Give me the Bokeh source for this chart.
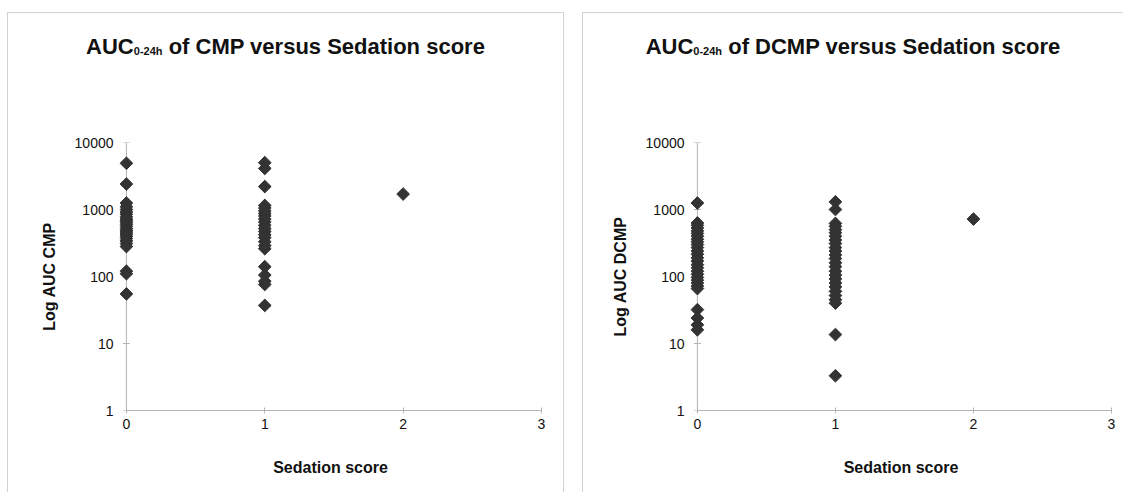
from bokeh.plotting import figure
from bokeh.layouts import row, column
from bokeh.models import FixedTicker, Range1d, ColumnDataSource, Div, Span
from bokeh.embed import file_html
from bokeh.resources import INLINE
import numpy as np

# ---- data ----
cmp_score0 = [4900, 2400, 1250, 1100, 1000, 920, 850, 780, 720, 680, 640, 600, 560,
              520, 490, 460, 430, 400, 370, 340, 310, 280, 120, 110, 55]
cmp_score1 = [5000, 4100, 2200, 1150, 1050, 950, 870, 800, 720, 650, 580, 520, 470,
              420, 380, 330, 290, 260, 140, 105, 85, 76, 37]
cmp_score2 = [1700]

dcmp_score0 = [1250, 630, 580, 530, 480, 440, 400, 360, 330, 300, 270, 240, 215, 190,
               170, 150, 135, 120, 108, 97, 88, 80, 72, 66, 32, 24, 19, 16]
dcmp_score1 = [1300, 1000, 620, 560, 500, 450, 400, 350, 310, 270, 240, 210, 185, 160,
               140, 120, 105, 92, 80, 70, 60, 52, 45, 40, 13.6, 3.3]
dcmp_score2 = [720]

x_ticks = [0, 1, 2, 3]
y_ticks = [1, 10, 100, 1000, 10000]
y_tick_labels = ["1", "10", "100", "1000", "10000"]

titles = [("AUC", "0-24h", " of CMP versus Sedation score"),
          ("AUC", "0-24h", " of DCMP versus Sedation score")]
y_labels = ["Log AUC CMP", "Log AUC DCMP"]
x_label = "Sedation score"

FONT = "Liberation Sans"
MARK = "#333333"
AXIS = "#b4b4b4"
TXT = "#111111"
TITLE_H = 60
X_PAD = 0.05  # room so that markers at score 0 are not clipped by the frame


def make_panel(s0, s1, s2, title, ylab, width, bl, br):
    xs = [0] * len(s0) + [1] * len(s1) + [2] * len(s2)
    ys = list(s0) + list(s1) + list(s2)
    src = ColumnDataSource(dict(x=xs, y=ys))
    p = figure(width=width, height=479 - TITLE_H, x_range=Range1d(-X_PAD, 3),
               y_range=Range1d(1, 10000), y_axis_type="log", output_backend="svg",
               toolbar_location=None, min_border_left=bl, min_border_right=br,
               min_border_top=142 - 13 - TITLE_H, min_border_bottom=82)
    p.grid.visible = False
    p.outline_line_color = None

    # y-axis line drawn at score 0 (the axis itself sits just left of it)
    p.add_layout(Span(location=0, dimension="height", line_color=AXIS, line_width=1,
                      level="underlay"))
    p.scatter(x=[0] * len(y_ticks), y=y_ticks, marker="dash", size=7,
              line_color=AXIS, line_width=1)

    p.scatter("x", "y", source=src, marker="square", angle=np.pi / 4, size=9,
              fill_color=MARK, line_color=MARK)

    for ax in (p.xaxis[0], p.yaxis[0]):
        ax.axis_line_color = AXIS
        ax.major_tick_line_color = AXIS
        ax.minor_tick_line_color = None
        ax.major_tick_in = 3
        ax.major_tick_out = 3
        ax.major_label_text_font = FONT
        ax.major_label_text_font_size = "14px"
        ax.major_label_text_color = TXT
        ax.axis_label_text_font = FONT
        ax.axis_label_text_font_style = "bold"
        ax.axis_label_text_font_size = "16px"
        ax.axis_label_text_color = TXT

    p.xaxis.ticker = FixedTicker(ticks=x_ticks)
    p.xaxis.bounds = (0, 3)
    p.xaxis.major_label_standoff = 5
    p.xaxis.axis_label = x_label
    p.xaxis.axis_label_standoff = 27

    p.yaxis.ticker = FixedTicker(ticks=y_ticks)
    p.yaxis.axis_line_color = None
    p.yaxis.major_tick_line_color = None
    p.yaxis.major_tick_in = 0
    p.yaxis.major_tick_out = 0
    p.yaxis.major_label_overrides = {t: l for t, l in zip(y_ticks, y_tick_labels)}
    p.yaxis.major_label_standoff = 6
    p.yaxis.axis_label = ylab
    p.yaxis.axis_label_standoff = 14

    main, sub, rest = title
    html = (
        f'<div style="display:block;width:{width}px;text-align:center;padding-top:18px;'
        f'font-family:\'{FONT}\';font-weight:bold;font-size:22px;color:{TXT};'
        f'white-space:nowrap;">'
        f'{main}<sub style="font-size:11px;vertical-align:-1px;">{sub}</sub>{rest}</div>'
    )
    d = Div(text=html, width=width, height=TITLE_H, margin=0,
            styles={"text-align": "center"})
    return column(d, p, spacing=0)


c1 = make_panel(cmp_score0, cmp_score1, cmp_score2, titles[0], y_labels[0], 555, 111, 22)
c1.styles = {"border": "1px solid #d2d2d2", "border-bottom": "none",
             "margin-top": "12px", "margin-left": "7px"}
c2 = make_panel(dcmp_score0, dcmp_score1, dcmp_score2, titles[1], y_labels[1], 540, 107, 12)
c2.styles = {"border": "1px solid #d2d2d2", "border-bottom": "none", "border-right": "none",
             "margin-top": "12px"}

layout = row(c1, c2, spacing=18)

open("out.html", "w").write(file_html(layout, INLINE))
